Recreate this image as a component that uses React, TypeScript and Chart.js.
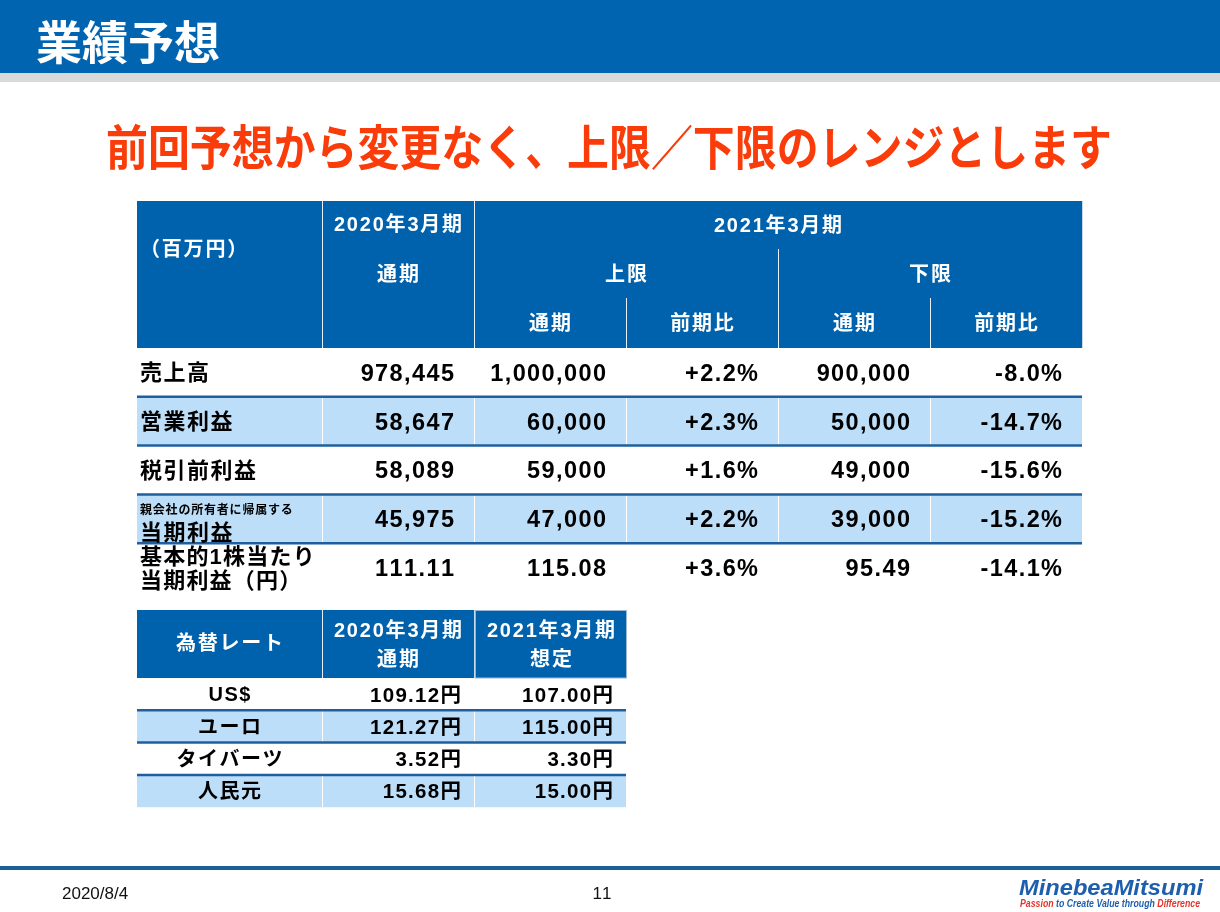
import React, { useEffect, useRef } from "react";
import { Chart, registerables } from "chart.js";

Chart.register(...registerables);

// ---------- data ----------
const slideTitle = "業績予想";
const headline = "前回予想から変更なく、上限／下限のレンジとします";
const unitLabel = "（百万円）";
const prevYearLabel = "2020年3月期";
const curYearLabel = "2021年3月期";
const fullYearLabel = "通期";
const upperLabel = "上限";
const lowerLabel = "下限";
const yoyLabel = "前期比";

const rowLabels: string[][] = [
  ["売上高"],
  ["営業利益"],
  ["税引前利益"],
  ["親会社の所有者に帰属する", "当期利益"],
  ["基本的1株当たり", "当期利益（円）"],
];
const fy2020Actual = [978445, 58647, 58089, 45975, 111.11];
const upperForecast = [1000000, 60000, 59000, 47000, 115.08];
const upperYoY = [2.2, 2.3, 1.6, 2.2, 3.6];
const lowerForecast = [900000, 50000, 49000, 39000, 95.49];
const lowerYoY = [-8.0, -14.7, -15.6, -15.2, -14.1];

const fxTitle = "為替レート";
const fxAssumedLabel = "想定";
const fxLabels = ["US$", "ユーロ", "タイバーツ", "人民元"];
const fxActual2020 = [109.12, 121.27, 3.52, 15.68];
const fxAssumed2021 = [107.0, 115.0, 3.3, 15.0];

const footerDate = "2020/8/4";
const pageNumber = "11";
const logoText = "MinebeaMitsumi";
const taglineParts = ["Passion", " to Create Value through ", "Difference"];

// ---------- styles ----------
const W = 1220;
const H = 912;
const BLUE = "#0064B0";
const HEAD_BLUE = "#0062AC";
const LIGHT = "#BDDEF8";
const SEP = "#1F5F9F";
const JP = '"Noto Sans CJK JP"';
const LAT = '"Liberation Sans", "Noto Sans CJK JP"';

type Align = "left" | "center" | "right";

function drawText(
  ctx: CanvasRenderingContext2D,
  str: string,
  x: number,
  cy: number,
  size: number,
  family: string,
  color: string,
  align: Align = "left",
  spacing = 0,
  weight = "bold",
  style = ""
) {
  ctx.font = `${style} ${weight} ${size}px ${family}`.trim();
  ctx.fillStyle = color;
  ctx.textAlign = "left";
  ctx.textBaseline = "alphabetic";
  const chars = Array.from(str);
  const widths = chars.map((c) => ctx.measureText(c).width);
  const total = widths.reduce((a, b) => a + b, 0) + spacing * (chars.length - 1);
  let sx = align === "left" ? x : align === "center" ? x - total / 2 : x - total;
  const by = cy + size * 0.36;
  chars.forEach((c, i) => {
    ctx.fillText(c, sx, by);
    sx += widths[i] + spacing;
  });
  return total;
}

// draw text horizontally scaled to fit a given width, starting at x0
function drawFit(
  ctx: CanvasRenderingContext2D,
  str: string,
  x0: number,
  cy: number,
  size: number,
  family: string,
  color: string,
  width: number,
  weight = "bold",
  style = ""
) {
  ctx.save();
  ctx.font = `${style} ${weight} ${size}px ${family}`.trim();
  const w = ctx.measureText(str).width;
  ctx.translate(x0, cy + size * 0.36);
  ctx.scale(width / w, 1);
  ctx.fillStyle = color;
  ctx.textAlign = "left";
  ctx.textBaseline = "alphabetic";
  ctx.fillText(str, 0, 0);
  ctx.restore();
}

function fmtNum(v: number, row: number) {
  if (row === 4) return v.toFixed(2);
  return v.toLocaleString("en-US");
}
function fmtPct(v: number) {
  return (v > 0 ? "+" : "") + v.toFixed(1) + "%";
}

const slidePlugin = {
  id: "slide",
  afterDraw(chart: any) {
    const ctx: CanvasRenderingContext2D = chart.ctx;
    ctx.save();
    ctx.fillStyle = "#ffffff";
    ctx.fillRect(0, 0, W, H);

    // top bar
    ctx.fillStyle = BLUE;
    ctx.fillRect(0, 0, W, 73);
    ctx.fillStyle = "#D9D9D9";
    ctx.fillRect(0, 73, W, 9);
    drawText(ctx, slideTitle, 36, 42, 46, JP, "#ffffff", "left", 0);

    // headline
    drawFit(ctx, headline, 106, 148, 48, JP, "#FA3C0A", 1006);

    // ---------- main table ----------
    const colX = [137, 322, 474, 626, 778, 930, 1082];
    const headTop = 201;
    const headBot = 348;
    const rowH = 48.8;
    ctx.fillStyle = HEAD_BLUE;
    ctx.fillRect(colX[0], headTop, colX[6] - colX[0], headBot - headTop);
    ctx.strokeStyle = "#E6F0FA";
    ctx.lineWidth = 1;
    const vline = (x: number, y1: number, y2: number) => {
      ctx.beginPath();
      ctx.moveTo(x + 0.5, y1);
      ctx.lineTo(x + 0.5, y2);
      ctx.stroke();
    };
    vline(colX[1], headTop, headBot);
    vline(colX[2], headTop, headBot);
    vline(colX[4], 249, headBot);
    vline(colX[3], 298, headBot);
    vline(colX[5], 298, headBot);
    ctx.strokeStyle = "#C9D6E3";
    vline(colX[6], headTop, headBot);

    const hs = 20;
    const hsp = 1.8;
    drawText(ctx, unitLabel, 140, 249, hs, JP, "#fff", "left", hsp);
    drawText(ctx, prevYearLabel, (colX[1] + colX[2]) / 2, 224, hs, LAT, "#fff", "center", hsp);
    drawText(ctx, fullYearLabel, (colX[1] + colX[2]) / 2, 274, hs, JP, "#fff", "center", hsp);
    drawText(ctx, curYearLabel, (colX[2] + colX[6]) / 2, 225, hs, LAT, "#fff", "center", hsp);
    drawText(ctx, upperLabel, colX[3], 274, hs, JP, "#fff", "center", hsp);
    drawText(ctx, lowerLabel, colX[5], 274, hs, JP, "#fff", "center", hsp);
    const subs = [fullYearLabel, yoyLabel, fullYearLabel, yoyLabel];
    subs.forEach((s, i) => {
      drawText(ctx, s, (colX[2 + i] + colX[3 + i]) / 2, 323, hs, JP, "#fff", "center", hsp);
    });

    // body rows
    rowLabels.forEach((_, r) => {
      const top = headBot + r * rowH;
      if (r % 2 === 1) {
        ctx.fillStyle = LIGHT;
        ctx.fillRect(colX[0], top, colX[6] - colX[0], rowH);
        ctx.strokeStyle = "#ffffff";
        for (let c = 1; c < 6; c++) vline(colX[c], top, top + rowH);
      }
    });
    ctx.strokeStyle = SEP;
    ctx.lineWidth = 2.5;
    for (let r = 1; r < rowLabels.length; r++) {
      const y = headBot + r * rowH;
      ctx.beginPath();
      ctx.moveTo(colX[0], y);
      ctx.lineTo(colX[6], y);
      ctx.stroke();
    }
    ctx.lineWidth = 1;

    const ns = 23.5;
    const nsp = 1.4;
    rowLabels.forEach((lab, r) => {
      const top = headBot + r * rowH;
      const cy = top + rowH / 2;
      if (lab.length === 1) {
        drawText(ctx, lab[0], 140, cy, 22, JP, "#000", "left", 1.5);
      } else if (r === 3) {
        drawText(ctx, lab[0], 140, top + 15, 12, JP, "#000", "left", 0.8);
        drawText(ctx, lab[1], 140, top + 38, 22, JP, "#000", "left", 1.5);
      } else {
        drawText(ctx, lab[0], 140, cy - 12, 22, LAT, "#000", "left", 1.2);
        drawText(ctx, lab[1], 140, cy + 12, 22, JP, "#000", "left", 1.2);
      }
      const vals = [
        fmtNum(fy2020Actual[r], r),
        fmtNum(upperForecast[r], r),
        fmtPct(upperYoY[r]),
        fmtNum(lowerForecast[r], r),
        fmtPct(lowerYoY[r]),
      ];
      vals.forEach((v, i) => {
        drawText(ctx, v, colX[i + 2] - 20, cy, ns, LAT, "#000", "right", nsp);
      });
    });

    // ---------- FX table ----------
    const fx = [137, 322, 474, 626];
    const fTop = 610;
    const fBot = 678;
    const fRowH = 32.3;
    ctx.fillStyle = HEAD_BLUE;
    ctx.fillRect(fx[0], fTop, fx[2] - fx[0], fBot - fTop);
    ctx.fillRect(fx[2] + 1.5, fTop + 1, fx[3] - fx[2] - 1.5, fBot - fTop - 1);
    ctx.strokeStyle = "#E6F0FA";
    vline(fx[1], fTop, fBot);
    ctx.strokeStyle = "#9DB8D6";
    ctx.strokeRect(fx[2] + 1, fTop + 0.5, fx[3] - fx[2] - 0.5, fBot - fTop - 0.5);

    drawText(ctx, fxTitle, (fx[0] + fx[1]) / 2, 643, hs, JP, "#fff", "center", hsp);
    drawText(ctx, prevYearLabel, (fx[1] + fx[2]) / 2, 630, hs, LAT, "#fff", "center", hsp);
    drawText(ctx, fullYearLabel, (fx[1] + fx[2]) / 2, 659, hs, JP, "#fff", "center", hsp);
    drawText(ctx, curYearLabel, (fx[2] + fx[3]) / 2 + 1, 630, hs, LAT, "#fff", "center", hsp);
    drawText(ctx, fxAssumedLabel, (fx[2] + fx[3]) / 2 + 1, 659, hs, JP, "#fff", "center", hsp);

    fxLabels.forEach((_, r) => {
      const top = fBot + r * fRowH;
      if (r % 2 === 1) {
        ctx.fillStyle = LIGHT;
        ctx.fillRect(fx[0], top, fx[3] - fx[0], fRowH);
        ctx.strokeStyle = "#ffffff";
        vline(fx[1], top, top + fRowH);
        vline(fx[2], top, top + fRowH);
      }
    });
    ctx.strokeStyle = SEP;
    ctx.lineWidth = 2.5;
    for (let r = 1; r < fxLabels.length; r++) {
      const y = fBot + r * fRowH;
      ctx.beginPath();
      ctx.moveTo(fx[0], y);
      ctx.lineTo(fx[3], y);
      ctx.stroke();
    }
    ctx.lineWidth = 1;
    fxLabels.forEach((lab, r) => {
      const cy = fBot + r * fRowH + fRowH / 2;
      drawText(ctx, lab, (fx[0] + fx[1]) / 2, cy, 20, LAT, "#000", "center", 1.5);
      drawText(ctx, fxActual2020[r].toFixed(2) + "円", fx[2] - 13, cy, 20.5, LAT, "#000", "right", 1.3);
      drawText(ctx, fxAssumed2021[r].toFixed(2) + "円", fx[3] - 13, cy, 20.5, LAT, "#000", "right", 1.3);
    });

    // ---------- footer ----------
    ctx.fillStyle = "#1B6197";
    ctx.fillRect(0, 866, W, 4);
    drawText(ctx, footerDate, 62, 893, 17, '"Liberation Sans"', "#111", "left", 0, "normal");
    drawText(ctx, pageNumber, 602, 893, 17, '"Liberation Sans"', "#111", "center", 0, "normal");
    drawFit(ctx, logoText, 1019, 887, 22, '"Liberation Sans"', "#1D5FAE", 184, "bold", "italic");
    // tagline
    ctx.font = 'italic bold 10px "Liberation Sans"';
    const tw = taglineParts.reduce((a, p) => a + ctx.measureText(p).width, 0);
    const scale = 180 / tw;
    ctx.save();
    ctx.translate(1020, 907);
    ctx.scale(scale, 1);
    let tx = 0;
    const tcols = ["#E3322B", "#1D5FAE", "#E3322B"];
    taglineParts.forEach((p, i) => {
      ctx.fillStyle = tcols[i];
      ctx.textAlign = "left";
      ctx.textBaseline = "alphabetic";
      ctx.fillText(p, tx, 0);
      tx += ctx.measureText(p).width;
    });
    ctx.restore();

    ctx.restore();
  },
};

export default function App() {
  const ref = useRef<HTMLCanvasElement | null>(null);
  useEffect(() => {
    if (!ref.current) return;
    const chart = new Chart(ref.current, {
      type: "bar",
      data: { labels: [], datasets: [] },
      options: {
        responsive: false,
        animation: false,
        devicePixelRatio: 1,
        layout: { padding: 0 },
        plugins: { legend: { display: false }, tooltip: { enabled: false }, title: { display: false } },
        scales: { x: { display: false }, y: { display: false } },
      },
      plugins: [slidePlugin],
    });
    return () => chart.destroy();
  }, []);
  return (
    <div style={{ position: "absolute", left: 0, top: 0, width: W, height: H, background: "#fff" }}>
      <canvas ref={ref} width={W} height={H} style={{ display: "block", width: W, height: H }} />
    </div>
  );
}
